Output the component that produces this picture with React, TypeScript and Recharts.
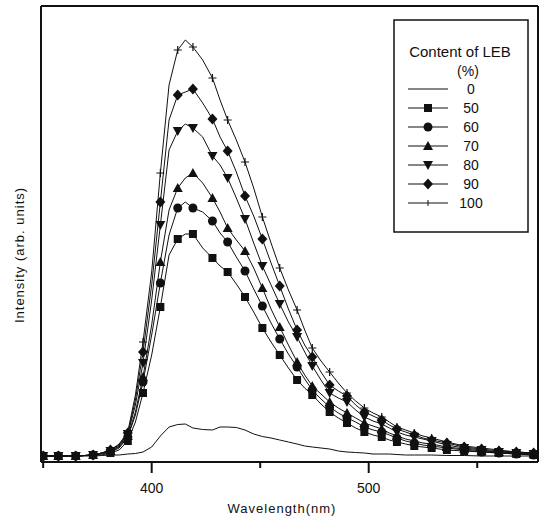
import { Legend, Line, LineChart, XAxis, YAxis } from "recharts";

const wavelengths = [350, 357, 365, 373, 377, 381, 385, 389, 392.5, 396, 400, 404, 408, 412, 415.5, 419, 423.5, 428, 431.5, 435, 439, 443, 447, 451, 455, 459, 463, 467, 470.5, 474, 478, 482, 486, 490, 494, 498, 502, 506, 509.5, 513, 517, 521, 525, 529, 536, 544, 552, 560, 568, 576];
const markerWavelengths = [350, 357, 365, 373, 381, 389, 396, 404, 412, 419, 428, 435, 443, 451, 459, 467, 474, 482, 490, 498, 506, 513, 521, 529, 536, 544, 552, 560, 568, 576];

const leb0 = [1, 1, 1, 1, 1.5, 2, 2, 3, 3.5, 5, 10, 21, 30, 32.5, 33, 29, 27.5, 27, 30, 30, 29.5, 27, 23, 20.5, 19, 17, 15, 13, 11, 10, 9, 8, 6, 5, 4.5, 4, 3, 3, 3, 2.5, 2, 2, 2, 2, 1.5, 1.5, 1, 1, 1, 1];
const leb50 = [1, 1, 1, 2, 2, 4, 7, 16, 35, 64, 102, 150, 202, 218, 223, 223, 209, 199, 191, 185, 173, 160, 145, 129, 115, 102, 89, 77, 69, 62, 53, 45, 39, 34, 29, 25, 22, 20, 17, 15, 13, 11, 10, 9, 7, 6, 5, 4, 3, 2];
const leb60 = [1, 1, 1, 2, 3, 5, 9, 20, 42, 75, 122, 174, 222, 249, 255, 249, 245, 236, 224, 215, 200, 186, 168, 151, 134, 118, 103, 90, 78, 67, 58, 50, 44, 39, 35, 30, 27, 25, 22, 19, 16, 14, 12, 11, 9, 7, 5, 4, 3, 2];
const leb70 = [1, 1, 1, 2, 4, 6, 10, 21, 45, 80, 132, 195, 247, 269, 279, 284, 274, 259, 245, 229, 217, 206, 189, 169, 148, 130, 112, 95, 82, 71, 63, 55, 49, 44, 39, 34, 31, 28, 24, 21, 18, 16, 14, 13, 10, 8, 6, 5, 4, 3];
const leb80 = [1, 1, 1, 2, 4, 6, 11, 23, 52, 94, 157, 232, 307, 326, 333, 329, 320, 301, 292, 279, 259, 238, 214, 191, 172, 153, 135, 120, 105, 91, 77, 64, 59, 55, 47, 40, 36, 33, 29, 25, 22, 20, 18, 16, 12, 9, 7, 5, 4, 3];
const leb90 = [1, 1, 1, 2, 4, 7, 12, 24, 57, 105, 172, 255, 337, 362, 365, 368, 354, 338, 320, 306, 285, 261, 241, 218, 194, 171, 148, 127, 112, 100, 85, 72, 66, 61, 52, 45, 41, 37, 32, 28, 25, 22, 19, 17, 14, 10, 8, 6, 5, 4];
const leb100 = [1, 1, 1, 2, 4, 7, 13, 25, 62, 115, 185, 284, 372, 407, 417, 410, 397, 379, 357, 337, 317, 295, 269, 240, 214, 189, 167, 147, 127, 109, 96, 85, 74, 64, 56, 49, 44, 40, 35, 30, 27, 24, 21, 19, 15, 11, 9, 7, 5, 4];

const xTicks = [350, 400, 450, 500, 550];
const labeledTicks = [400, 500];

const series = [
  { key: "leb0", label: "0", shape: "none" },
  { key: "leb50", label: "50", shape: "square" },
  { key: "leb60", label: "60", shape: "circle" },
  { key: "leb70", label: "70", shape: "triangle" },
  { key: "leb80", label: "80", shape: "down" },
  { key: "leb90", label: "90", shape: "diamond" },
  { key: "leb100", label: "100", shape: "plus" },
];

const data = wavelengths.map((wl, i) => ({
  wl,
  leb0: leb0[i],
  leb50: leb50[i],
  leb60: leb60[i],
  leb70: leb70[i],
  leb80: leb80[i],
  leb90: leb90[i],
  leb100: leb100[i],
}));

const FONT = "'Liberation Sans', Arial, Helvetica, sans-serif";
const INK = "#111";

const Marker = ({ shape, cx, cy, legend = false }: { shape: string; cx: number; cy: number; legend?: boolean }) => {
  switch (shape) {
    case "square":
      return <rect x={cx - 4} y={cy - 4} width={8} height={8} fill={INK} />;
    case "circle":
      return <circle cx={cx} cy={cy} r={4.5} fill={INK} />;
    case "triangle":
      return <polygon points={`${cx},${cy - 5} ${cx + 5},${cy + 4} ${cx - 5},${cy + 4}`} fill={INK} />;
    case "down":
      return <polygon points={`${cx - 5},${cy - 4} ${cx + 5},${cy - 4} ${cx},${cy + 5}`} fill={INK} />;
    case "diamond":
      return <polygon points={`${cx},${cy - 5.5} ${cx + 5},${cy} ${cx},${cy + 5.5} ${cx - 5},${cy}`} fill={INK} />;
    case "plus":
      return legend ? (
        <path d={`M${cx},${cy - 3}V${cy + 3}`} stroke={INK} strokeWidth={1} />
      ) : (
        <path d={`M${cx - 4},${cy}H${cx + 4}M${cx},${cy - 4}V${cy + 4}`} stroke={INK} strokeWidth={1.2} />
      );
    default:
      return null;
  }
};

const makeDot = (shape: string) => (props: any) => {
  const { cx, cy, payload, index } = props;
  if (shape === "none" || !markerWavelengths.includes(payload.wl)) {
    return <g key={`d-${shape}-${index}`} />;
  }
  return (
    <g key={`d-${shape}-${index}`}>
      <Marker shape={shape} cx={cx} cy={cy} />
    </g>
  );
};

const XTick = (props: any) => {
  const { x, y, payload } = props;
  const major = labeledTicks.includes(payload.value);
  return (
    <g>
      <line x1={x} x2={x} y1={y} y2={y + (major ? 11 : 6)} stroke={INK} strokeWidth={2} />
      {major && (
        <text x={x} y={y + 31} textAnchor="middle" fontFamily={FONT} fontSize={14} fill={INK}>
          {payload.value}
        </text>
      )}
    </g>
  );
};

const LegendBox = () => (
  <svg width={138} height={216}>
    <rect x={1} y={1} width={134} height={212} fill="#fff" stroke={INK} strokeWidth={1.5} />
    <text x={67} y={38} textAnchor="middle" fontFamily={FONT} fontSize={15} fill={INK}>
      Content of LEB
    </text>
    <text x={75} y={57} textAnchor="middle" fontFamily={FONT} fontSize={14} fill={INK}>
      (%)
    </text>
    {series.map((s, i) => {
      const cy = 70 + i * 19;
      return (
        <g key={s.key}>
          <line x1={15} x2={55} y1={cy} y2={cy} stroke={INK} strokeWidth={1.2} />
          <Marker shape={s.shape} cx={35} cy={cy} legend />
          <text x={78} y={cy + 5} textAnchor="middle" fontFamily={FONT} fontSize={14} fill={INK}>
            {s.label}
          </text>
        </g>
      );
    })}
  </svg>
);

export default function App() {
  return (
    <div style={{ position: "absolute", left: 0, top: 0, background: "#fff" }}>
      <LineChart width={539} height={518} data={data} margin={{ top: 5, right: 0, bottom: 0, left: 40 }}>
        <XAxis
          dataKey="wl"
          type="number"
          domain={[349, 578]}
          ticks={xTicks}
          allowDataOverflow
          height={56}
          tickSize={0}
          tickMargin={0}
          tickLine={false}
          tick={<XTick />}
          axisLine={{ stroke: INK, strokeWidth: 2 }}
          label={{
            content: () => (
              <text x={282} y={513} textAnchor="middle" fontFamily={FONT} fontSize={13} letterSpacing={1} fill={INK}>
                Wavelength(nm)
              </text>
            ),
          }}
        />
        <XAxis
          xAxisId="top"
          dataKey="wl"
          type="number"
          orientation="top"
          domain={[349, 578]}
          allowDataOverflow
          height={1}
          tick={false}
          tickLine={false}
          axisLine={{ stroke: INK, strokeWidth: 2 }}
        />
        <YAxis
          type="number"
          domain={[-5, 451]}
          allowDataOverflow
          width={1}
          tick={false}
          tickLine={false}
          axisLine={{ stroke: INK, strokeWidth: 2 }}
          label={{
            content: () => (
              <text
                x={24}
                y={255}
                transform="rotate(-90 24 255)"
                textAnchor="middle"
                fontFamily={FONT}
                fontSize={13}
                letterSpacing={1}
                fill={INK}
              >
                Intensity (arb. units)
              </text>
            ),
          }}
        />
        <YAxis
          yAxisId="right"
          orientation="right"
          type="number"
          domain={[-5, 451]}
          allowDataOverflow
          width={1}
          tick={false}
          tickLine={false}
          axisLine={{ stroke: INK, strokeWidth: 2 }}
        />
        {series.map((s) => (
          <Line
            key={s.key}
            dataKey={s.key}
            type="linear"
            stroke={INK}
            strokeWidth={1}
            dot={makeDot(s.shape)}
            activeDot={false}
            isAnimationActive={false}
          />
        ))}
        <Legend
          layout="vertical"
          align="center"
          verticalAlign="middle"
          content={() => <LegendBox />}
          wrapperStyle={{ left: 393, top: 19, width: 138, height: 216 }}
        />
      </LineChart>
    </div>
  );
}
